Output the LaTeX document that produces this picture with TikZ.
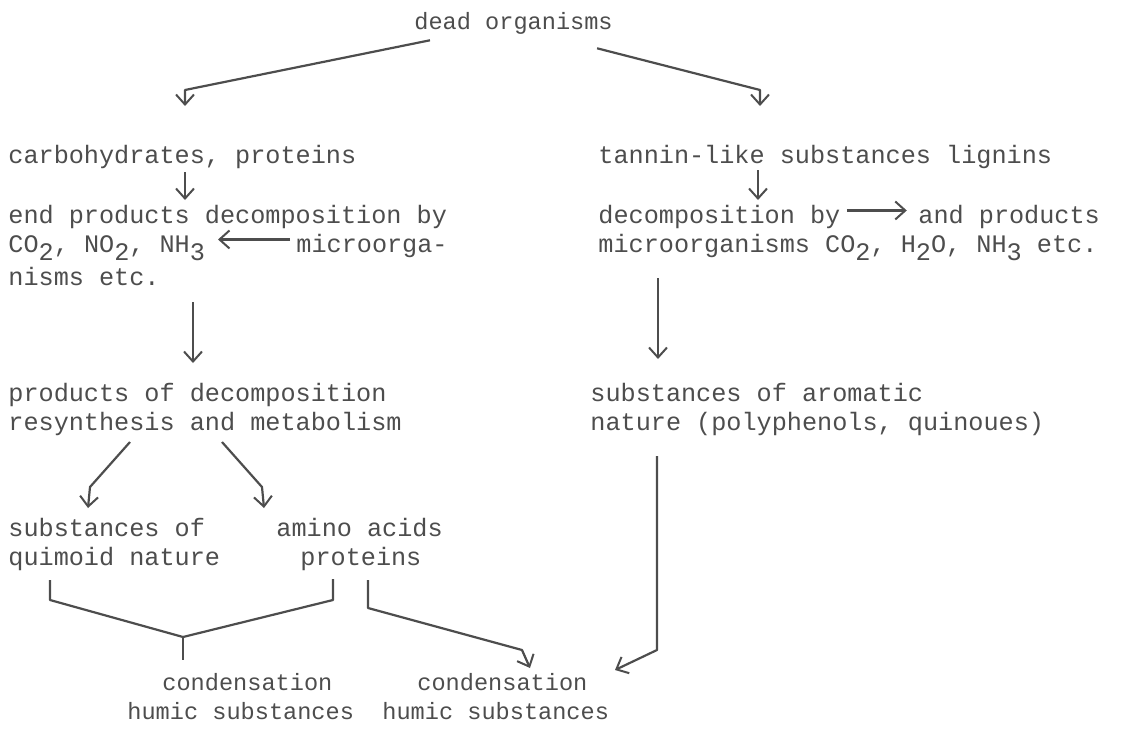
\documentclass[tikz,border=0pt]{standalone}
\usepackage{fontspec}
\setmonofont{Liberation Mono}
\usetikzlibrary{arrows.meta}

\definecolor{ink}{HTML}{4D4D4D}
\newcommand{\lo}[1]{\raisebox{-4.2pt}{#1}}

\begin{document}
\begin{tikzpicture}[x=0.5pt,y=-0.5pt,
    txt/.style={anchor=base west, inner sep=0pt, font=\ttfamily\fontsize{12.6}{14}\selectfont, text=ink},
    small/.style={txt, font=\ttfamily\fontsize{11.8}{13}\selectfont},
    flow/.style={draw=ink, line width=1.1pt, line join=round},
    tip/.style={-{Straight Barb[length=5pt,width=9pt,line width=1pt]}}]
      \useasboundingbox (0,0) rectangle (1126,739);

      \node[small] (dead) at (414, 29) {dead organisms};

      % left column
      \node[txt] (carb) at (8, 163) {carbohydrates, proteins};
      \node[txt] (endprod) at (8, 223) {end products decomposition by};
      \node[txt] (gases) at (8, 252) {CO\lo{2}, NO\lo{2}, NH\lo{3}};
      \node[txt] (micro) at (296, 252) {microorga-};
      \node[txt] (nisms) at (8, 285) {nisms etc.};
      \node[txt] (prod) at (8, 401) {products of decomposition};
      \node[txt] (resyn) at (8, 430) {resynthesis and metabolism};
      \node[txt] (quin) at (8, 536) {substances of};
      \node[txt] (quinb) at (8, 565) {quimoid nature};
      \node[txt] (amino) at (276, 536) {amino acids};
      \node[txt] (aminob) at (300, 565) {proteins};
      \node[small] (condl) at (162, 690) {condensation};
      \node[small] (humicl) at (127, 719) {humic substances};

      % right column
      \node[txt] (tannin) at (598, 163) {tannin-like substances lignins};
      \node[txt] (decomp) at (598, 223) {decomposition by};
      \node[txt] (andprod) at (918, 223) {and products};
      \node[txt] (decompb) at (598, 252) {microorganisms CO\lo{2}, H\lo{2}O, NH\lo{3} etc.};
      \node[txt] (arom) at (590, 401) {substances of aromatic};
      \node[txt] (aromb) at (590, 430) {nature (polyphenols, quinoues)};
      \node[small] (condr) at (417, 690) {condensation};
      \node[small] (humicr) at (382, 719) {humic substances};

      % bends
      \coordinate (k1) at (185, 90);
      \coordinate (k2) at (760, 90);
      \coordinate (k3) at (90, 487);
      \coordinate (k4) at (262, 487);
      \coordinate (fork) at (183, 637);
      \coordinate (k5) at (522, 650);
      \coordinate (k6) at (657, 650);

      \draw[flow, tip] ([xshift=8pt, yshift=-3pt]dead.south west) -- (k1) -- (185, 106);
      \draw[flow, tip] ([xshift=-8pt, yshift=-7pt]dead.south east) -- (k2) -- (760, 106);
      \draw[flow, tip] (185, 172) -- (185, 200);
      \draw[flow, tip] (758, 170) -- (758, 200);
      \draw[flow, tip] ([xshift=-3pt]micro.west) ++(0,-6) -- ++(-72, 0);
      \draw[flow, tip] ([xshift=3pt]decomp.east) ++(0,-6) -- ++(60, 0);
      \draw[flow, tip] (193, 302) -- (193, 363);
      \draw[flow, tip] (658, 278) -- (658, 359);
      \draw[flow, tip] (130, 442) -- (k3) -- (88, 508);
      \draw[flow, tip] (222, 442) -- (k4) -- (264, 508);
      \draw[flow] (50, 580) -- (50, 600) -- (fork) -- (333, 600) -- (333, 579);
      \draw[flow] (fork) -- (183, 660);
      \draw[flow, tip] (368, 580) -- (368, 608) -- (k5) -- (530, 668);
      \draw[flow, tip] (657, 456) -- (k6) -- (615, 670);
    \end{tikzpicture}
\end{document}
